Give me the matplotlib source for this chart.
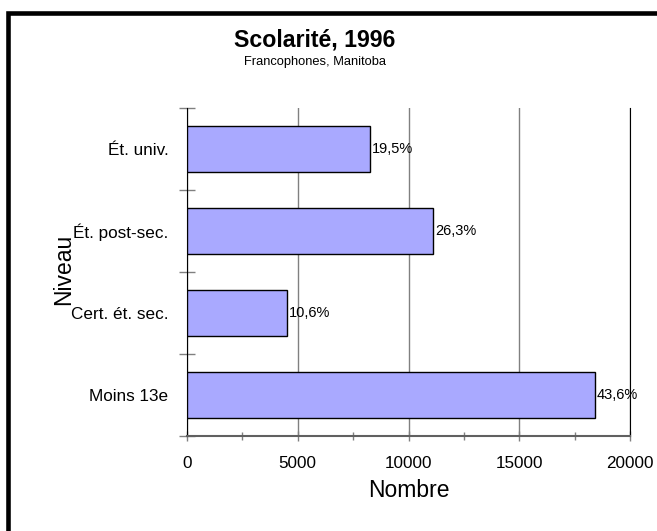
import matplotlib
matplotlib.use("Agg")
import matplotlib.pyplot as plt
from matplotlib.patches import Rectangle
from matplotlib.ticker import MultipleLocator, FixedLocator

plt.rcParams["font.family"] = ["Liberation Sans", "DejaVu Sans"]

categories = ["Moins 13e", "Cert. ét. sec.", "Ét. post-sec.", "Ét. univ."]
counts = [18420, 4500, 11120, 8270]
percent_labels = ["43,6%", "10,6%", "26,3%", "19,5%"]
x_ticks = [0, 5000, 10000, 15000, 20000]

W, H = 657, 531
fig = plt.figure(figsize=(W / 100, H / 100), dpi=100)

# outer chart frame (runs past the right and bottom edges)
fig.patches.append(Rectangle((8 / W, -0.2), 1.2, 1 - 12.5 / H + 0.2,
                             transform=fig.transFigure, fill=False,
                             edgecolor="black", linewidth=3.3, zorder=0))

ax = fig.add_axes([187 / W, 1 - 436 / H, (630 - 187) / W, (436 - 108) / H])

ypos = list(range(len(categories)))
ax.barh(ypos, counts, height=0.57, color="#A9A9FF", edgecolor="black",
        linewidth=1.0, zorder=3)
for y, v, lab in zip(ypos, counts, percent_labels):
    ax.text(v + 80, y, lab, va="center", ha="left", fontsize=10.5, zorder=4)

ax.set_xlim(0, 20000)
ax.set_ylim(-0.5, len(categories) - 0.5)

ax.xaxis.set_major_locator(FixedLocator(x_ticks))
ax.xaxis.set_minor_locator(MultipleLocator(2500))
ax.set_xticklabels([str(t) for t in x_ticks], fontsize=12.3)
ax.tick_params(axis="x", which="major", direction="inout", length=6.5,
               width=1, color="#808080", pad=11)
ax.tick_params(axis="x", which="minor", direction="inout", length=6,
               width=1, color="#808080")

# y ticks sit at category boundaries, labels at category centres
ax.yaxis.set_major_locator(FixedLocator([i - 0.5 for i in range(len(categories) + 1)]))
ax.yaxis.set_minor_locator(FixedLocator(ypos))
ax.set_yticklabels([])
ax.set_yticklabels(categories, minor=True, fontsize=12.3)
ax.tick_params(axis="y", which="major", direction="inout", length=12,
               width=1, color="#808080")
ax.tick_params(axis="y", which="minor", length=0, pad=13.5)

ax.grid(axis="x", which="major", color="#808080", linewidth=1, zorder=1)
ax.set_axisbelow(True)

ax.spines["top"].set_visible(False)
ax.spines["left"].set_color("black")
ax.spines["right"].set_color("black")
ax.spines["bottom"].set_color("#606060")
ax.spines["bottom"].set_linewidth(1.5)

ax.set_xlabel("Nombre", fontsize=16.5, labelpad=6)
ax.set_ylabel("Niveau", fontsize=16.5, va="center")
ax.yaxis.set_label_coords((64 - 187) / 443, (436 - 269) / 328)

fig.text(315 / W, 1 - 40 / H, "Scolarité, 1996", ha="center", va="center",
         fontsize=16.7, fontweight="bold")
fig.text(315 / W, 1 - 62 / H, "Francophones, Manitoba", ha="center",
         va="center", fontsize=9.3)

fig.savefig("out.png", dpi=100)
